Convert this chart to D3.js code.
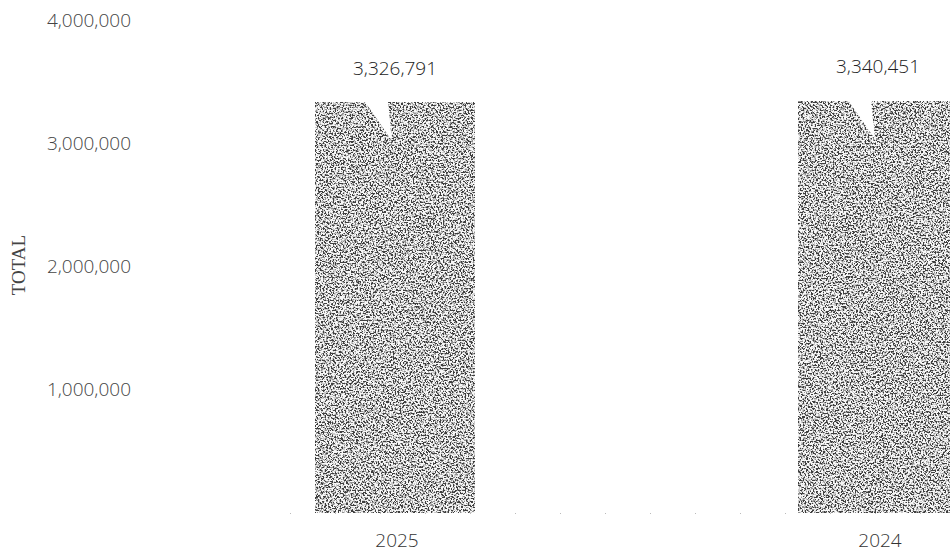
<!DOCTYPE html>
<html><head><meta charset="utf-8">
<script src="https://cdn.jsdelivr.net/npm/d3@7"></script>
<style>body{margin:0;background:#fff}svg{display:block}</style>
</head><body>
<script>
const categories = ["2025", "2024"];
const values = [3326791, 3340451];
const yTicks = [1000000, 2000000, 3000000, 4000000];
const yTitle = "TOTAL";

const W = 950, H = 554;
const svg = d3.select("body").append("svg").attr("width", W).attr("height", H);

const defs = svg.append("defs");
const f = defs.append("filter").attr("id","dither").attr("x",0).attr("y",0).attr("width","100%").attr("height","100%")
  .attr("color-interpolation-filters","sRGB");
f.append("feTurbulence").attr("type","fractalNoise").attr("baseFrequency",0.6).attr("numOctaves",2).attr("seed",7).attr("result","n");
f.append("feColorMatrix").attr("in","n").attr("type","matrix")
 .attr("values","4 0 0 0 -1.4  4 0 0 0 -1.4  4 0 0 0 -1.4  0 0 0 0 1").attr("result","m");
const ct = f.append("feComponentTransfer").attr("in","m");
["R","G","B"].forEach(ch => ct.append("feFunc"+ch).attr("type","discrete").attr("tableValues","0.25 0.57 0.8 0.97"));

const y = d3.scaleLinear().domain([0, 4000000]).range([513, 20]);
const bx = d3.scalePoint().domain(categories).range([395, 878]);
const bw = 160;

// y axis
const yAxis = svg.append("g").attr("transform","translate(131,0)")
  .call(d3.axisLeft(y).tickValues(yTicks).tickFormat(d3.format(",")).tickSize(0).tickPadding(0));
yAxis.select(".domain").remove();
yAxis.selectAll("text").attr("font-family","'Open Sans'").attr("font-size",19).attr("fill","#444").attr("font-weight",300);

svg.append("text").attr("transform","translate(25,265) rotate(-90)").attr("text-anchor","middle")
  .attr("font-family","'Liberation Serif'").attr("font-size",19).attr("fill","#444").text(yTitle);

// baseline
svg.append("line").attr("x1",290).attr("x2",950).attr("y1",y(0)+0.5).attr("y2",y(0)+0.5)
  .attr("stroke","#bbb").attr("stroke-dasharray","1 44");

const g = svg.append("g");
categories.forEach((c,i) => {
  const cx = bx(c), top = y(values[i]);
  g.append("rect").attr("x",cx-bw/2).attr("y",top).attr("width",bw).attr("height",y(0)-top)
    .attr("fill","#888").attr("filter","url(#dither)");
  g.append("path").attr("d",`M${cx-30},${top-1} L${cx-7},${top-1} L${cx-3},${top+38} Z`).attr("fill","#fff");
  g.append("text").attr("x",cx).attr("y",top-28).attr("text-anchor","middle")
    .attr("font-family","'Open Sans'").attr("font-size",19).attr("font-weight",300).attr("fill","#222").text(d3.format(",")(values[i]));
  g.append("text").attr("x",cx+2).attr("y",547).attr("text-anchor","middle")
    .attr("font-family","'Open Sans'").attr("font-size",19).attr("font-weight",300).attr("fill","#333").text(c);
});
</script>
</body></html>
